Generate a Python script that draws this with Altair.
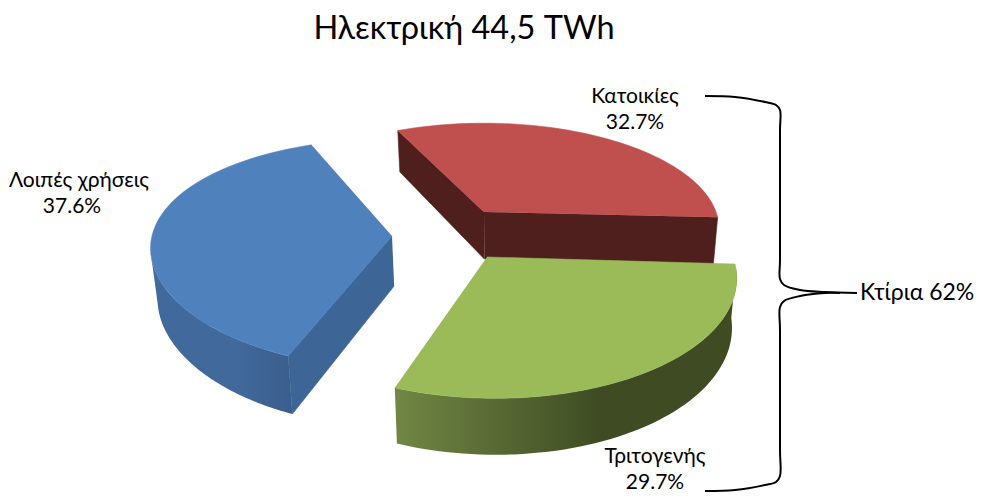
import math
import altair as alt
import pandas as pd

TITLE = "Ηλεκτρική 44,5 TWh"
CATEGORIES = ["Κατοικίες", "Τριτογενής", "Λοιπές χρήσεις"]
SHARES = [32.7, 29.7, 37.6]
GROUP_LABEL = "Κτίρια 62%"
START_ANGLE = 112.0

FONT = "Lato"
W, H = 971, 487
XS = alt.Scale(domain=[8, 8 + W], nice=False, zero=False)
YS = alt.Scale(domain=[8 + H, 8], nice=False, zero=False)

# projection of each exploded slice
SLICES = {
    "Κατοικίες": dict(cx=484, cy=212, A=230, B=102, k=0.15, kx=0.15, S=-13, T=5, D=47),
    "Τριτογενής": dict(cx=487, cy=257, A=244, B=120, k=0.15, kx=0.15, S=-15.7, T=5, D=48),
    "Λοιπές χρήσεις": dict(cx=392, cy=236, A=240, B=112, k=0.15, kx=0.10, S=2, T=0, D=50),
}
VX, VC = 500, 0.02


def top(p, deg):
    t = math.radians(deg)
    u, v = math.cos(t), math.sin(t)
    return (p["cx"] + (p["A"] * u + p["S"] * v) / (1 + p["kx"] * v),
            p["cy"] - (p["B"] * v + p["T"] * u) / (1 + p["k"] * v))


def bottom(p, deg):
    x, y = top(p, deg)
    w = 1 + p["k"] * math.sin(math.radians(deg))
    return x + (VX - x) * VC, y + p["D"] / w


def sweep(a, b, n=60):
    return [a + (b - a) * i / n for i in range(n + 1)]


def poly(points, fill):
    df = pd.DataFrame([{"x": x, "y": y, "i": i} for i, (x, y) in enumerate(points)])
    kw = dict(fill=fill, strokeWidth=0.6, stroke=fill) if isinstance(fill, str) else dict(fill=fill, strokeWidth=0, stroke="transparent")
    return alt.Chart(df).mark_line(**kw).encode(
        x=alt.X("x:Q", scale=XS, axis=None),
        y=alt.Y("y:Q", scale=YS, axis=None),
        order="i:Q",
    )


def grad(stops):
    return alt.LinearGradient(
        gradient="linear", x1=0, x2=1, y1=0, y2=0,
        stops=[alt.GradientStop(color=c, offset=o) for o, c in stops],
    )


# slice angles from the shares
angles = {}
a = START_ANGLE
for c, s in zip(CATEGORIES, SHARES):
    angles[c] = (a, a - s * 3.6)
    a -= s * 3.6

layers = []

# red (back slice)
n = "Κατοικίες"
p, (a0, a1) = SLICES[n], angles[n]
apex_t, apex_b = (p["cx"], p["cy"]), (p["cx"] + (VX - p["cx"]) * VC, p["cy"] + p["D"])
DARK_RED = "#4f1f1e"
layers.append(poly([apex_t, top(p, a0), bottom(p, a0), apex_b], DARK_RED))
layers.append(poly([apex_t, top(p, a1), bottom(p, a1), apex_b], DARK_RED))
layers.append(poly([apex_t] + [top(p, d) for d in sweep(a0, a1)], "#c0504d"))

# blue
n = "Λοιπές χρήσεις"
p = SLICES[n]
a0, a1 = angles[n][0] + 360, angles[n][1] + 360
apex_t, apex_b = (p["cx"], p["cy"]), (p["cx"] + (VX - p["cx"]) * VC, p["cy"] + p["D"])
vis = sweep(188.6, a0)
layers.append(poly([top(p, d) for d in vis] + [bottom(p, d) for d in reversed(vis)],
                   grad([(0, "#41699c"), (0.6, "#41699c"), (1, "#3a5e8c")])))
layers.append(poly([apex_t, top(p, a0), bottom(p, a0), apex_b], "#3d6596"))
layers.append(poly([apex_t] + [top(p, d) for d in sweep(a0, a1)], "#4f81bd"))

# green (front slice)
n = "Τριτογενής"
p, (a0, a1) = SLICES[n], angles[n]
apex_t = (p["cx"], p["cy"])
vis = sweep(a1, -8)
layers.append(poly([top(p, d) for d in vis] + [bottom(p, d) for d in reversed(vis)],
                   grad([(0, "#718744"), (0.6, "#3f4c23"), (1, "#3f4c23")])))
layers.append(poly([apex_t] + [top(p, d) for d in sweep(a0, a1)], "#9bbb59"))

# curly bracket
BR_UP = [(705, 96), (735, 97), (765, 102), (776, 105), (780, 110), (780, 130), (780, 260),
         (780, 279), (784, 285), (800, 290), (825, 292), (857, 293)]
BR_LO = [(705, 491), (735, 490), (765, 485), (776, 482), (780, 476), (780, 450), (780, 330),
         (780, 307), (784, 301), (800, 296), (825, 293), (840, 293)]
for pts in (BR_UP, BR_LO):
    df = pd.DataFrame([{"x": x, "y": y, "i": i} for i, (x, y) in enumerate(pts)])
    layers.append(alt.Chart(df).mark_line(color="#000000", strokeWidth=2, interpolate="catmull-rom").encode(
        x=alt.X("x:Q", scale=XS, axis=None), y=alt.Y("y:Q", scale=YS, axis=None), order="i:Q"))


def text(rows, size, align="center"):
    return alt.Chart(pd.DataFrame(rows)).mark_text(
        font=FONT, fontSize=size, align=align, baseline="middle", color="#000000"
    ).encode(x=alt.X("x:Q", scale=XS, axis=None), y=alt.Y("y:Q", scale=YS, axis=None), text="t:N")


LABEL_POS = {"Κατοικίες": (635, 97, 635), "Τριτογενής": (655, 457, 655), "Λοιπές χρήσεις": (79, 181, 72)}
rows = []
for c, s in zip(CATEGORIES, SHARES):
    x, y, xp = LABEL_POS[c]
    rows.append({"x": x, "y": y, "t": c})
    rows.append({"x": xp, "y": y + 26, "t": f"{s}%"})
layers.append(text(rows, 21))
layers.append(text([{"x": 860, "y": 293, "t": GROUP_LABEL}], 23, "left"))
layers.append(text([{"x": 464, "y": 29, "t": TITLE}], 32.5))

chart = alt.layer(*layers).properties(
    width=W, height=H, padding=0, autosize="none", background="#ffffff"
).configure_view(stroke=None)

chart.save("out.html", embed_options={"renderer": "svg", "actions": False})
